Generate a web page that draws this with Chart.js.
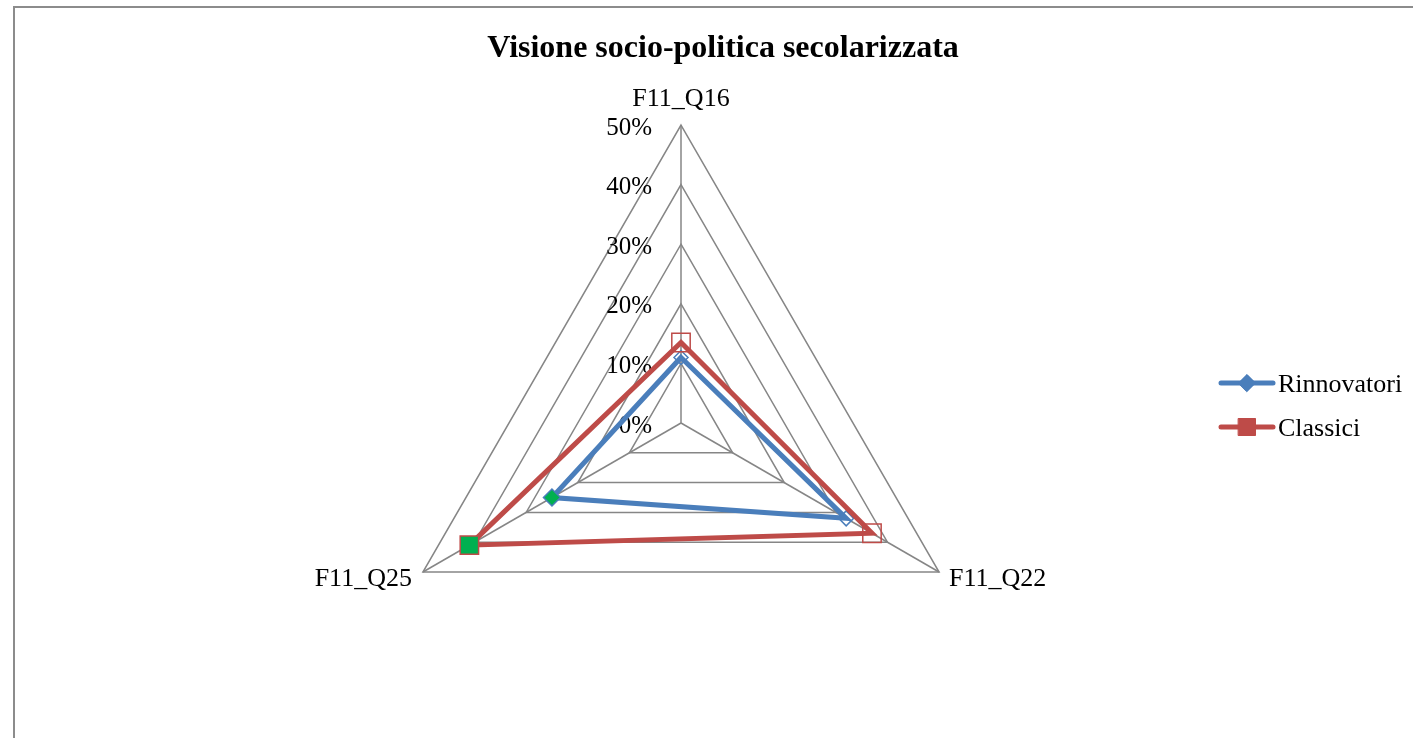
<!DOCTYPE html>
<html>
<head>
<meta charset="utf-8">
<script src="https://cdn.jsdelivr.net/npm/chart.js@4"></script>
<style>
  html, body { margin: 0; padding: 0; background: #ffffff; }
  #wrap { position: relative; width: 1413px; height: 738px; }
</style>
</head>
<body>
<div id="wrap"><canvas id="radar" width="1413" height="738"></canvas></div>
<script>
// Survey items on the three axes
const axisLabels = ['F11_Q16', 'F11_Q22', 'F11_Q25'];
// Share of respondents (%) per group
const rinnovatori = [11, 32, 25];
const classici = [13.5, 37, 41];
// Radial ticks
const tickValues = [0, 10, 20, 30, 40, 50];
const chartTitle = 'Visione socio-politica secolarizzata';
const seriesNames = ['Rinnovatori', 'Classici'];

const BLUE = '#4A7EBB';
const RED = '#BE4B48';
const GREEN = '#00B050';
const GRID = '#868686';
const SERIF = '"Liberation Serif", "Times New Roman", serif';
const NONE = 'rgba(0,0,0,0)';

// Frame, title, tick labels and axis names
const decorations = {
  id: 'decorations',
  beforeDraw(chart) {
    const ctx = chart.ctx;
    ctx.save();
    ctx.fillStyle = '#ffffff';
    ctx.fillRect(0, 0, chart.width, chart.height);
    ctx.strokeStyle = '#8c8c8c';
    ctx.lineWidth = 2;
    ctx.beginPath();
    ctx.moveTo(14, chart.height);
    ctx.lineTo(14, 7);
    ctx.lineTo(chart.width, 7);
    ctx.stroke();

    ctx.fillStyle = '#000000';
    ctx.font = 'bold 32px ' + SERIF;
    ctx.textAlign = 'center';
    ctx.textBaseline = 'alphabetic';
    ctx.fillText(chartTitle, 723, 57);
    ctx.restore();
  },
  beforeDatasetsDraw(chart) {
    const ctx = chart.ctx;
    const scale = chart.scales.r;
    ctx.save();
    ctx.fillStyle = '#000000';
    ctx.font = '25px ' + SERIF;
    ctx.textAlign = 'right';
    ctx.textBaseline = 'middle';
    tickValues.forEach(v => {
      const p = scale.getPointPositionForValue(0, v);
      ctx.fillText(v + '%', p.x - 29, p.y + 3);
    });

    ctx.font = '26px ' + SERIF;
    ctx.textBaseline = 'alphabetic';
    const outer = axisLabels.map((_, i) => scale.getPointPositionForValue(i, scale.max));
    ctx.textAlign = 'center';
    ctx.fillText(axisLabels[0], outer[0].x, outer[0].y - 19);
    ctx.textAlign = 'left';
    ctx.fillText(axisLabels[1], outer[1].x + 10, outer[1].y + 14);
    ctx.textAlign = 'right';
    ctx.fillText(axisLabels[2], outer[2].x - 11, outer[2].y + 14);
    ctx.restore();
  },
  afterDraw(chart) {
    // Legend: line sample with marker, then the series name
    const ctx = chart.ctx;
    ctx.save();
    const rows = [
      { name: seriesNames[0], color: BLUE, shape: 'rectRot', y: 383 },
      { name: seriesNames[1], color: RED, shape: 'rect', y: 427 }
    ];
    rows.forEach(r => {
      ctx.strokeStyle = r.color;
      ctx.lineWidth = 5;
      ctx.lineCap = 'round';
      ctx.beginPath();
      ctx.moveTo(1221, r.y);
      ctx.lineTo(1273, r.y);
      ctx.stroke();
      ctx.fillStyle = r.color;
      ctx.strokeStyle = r.color;
      ctx.lineWidth = 1;
      Chart.helpers.drawPoint(ctx, { pointStyle: r.shape, radius: r.shape === 'rect' ? 12 : 8.5, rotation: 0, borderWidth: 1 }, 1247, r.y);
      ctx.fill();
      ctx.fillStyle = '#000000';
      ctx.font = '26px ' + SERIF;
      ctx.textAlign = 'left';
      ctx.textBaseline = 'middle';
      ctx.fillText(r.name, 1278, r.y + 2);
    });
    ctx.restore();
  }
};

new Chart(document.getElementById('radar'), {
  type: 'radar',
  data: {
    labels: axisLabels,
    datasets: [
      {
        label: seriesNames[0],
        data: rinnovatori,
        order: 1,
        borderColor: BLUE,
        borderWidth: 5,
        backgroundColor: NONE,
        fill: false,
        tension: 0,
        pointStyle: 'rectRot',
        pointRadius: [7, 7.5, 8.5],
        pointBorderWidth: 1.5,
        pointBorderColor: BLUE,
        pointBackgroundColor: [NONE, NONE, GREEN]
      },
      {
        label: seriesNames[1],
        data: classici,
        order: 0,
        borderColor: RED,
        borderWidth: 5,
        backgroundColor: NONE,
        fill: false,
        tension: 0,
        pointStyle: 'rect',
        pointRadius: 13,
        pointBorderWidth: 1.5,
        pointBorderColor: RED,
        pointBackgroundColor: [NONE, NONE, GREEN]
      }
    ]
  },
  options: {
    responsive: false,
    animation: false,
    events: [],
    layout: { padding: { left: 383, right: 434, top: 125, bottom: 17 } },
    plugins: {
      legend: { display: false },
      title: { display: false },
      tooltip: { enabled: false }
    },
    scales: {
      r: {
        min: 0,
        max: 50,
        ticks: { display: false, stepSize: 10 },
        pointLabels: { display: false },
        grid: { color: GRID, lineWidth: 1.5 },
        angleLines: { color: GRID, lineWidth: 1.5 }
      }
    }
  },
  plugins: [decorations]
});
</script>
</body>
</html>
